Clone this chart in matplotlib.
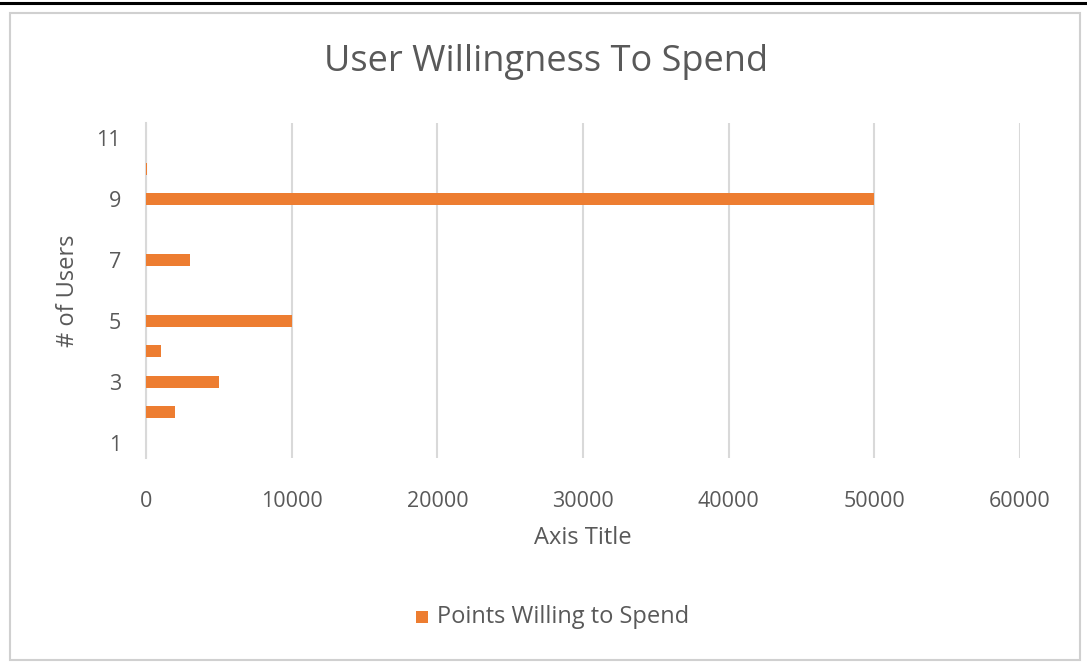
import matplotlib
matplotlib.use("Agg")
import matplotlib.pyplot as plt
from matplotlib.patches import Rectangle
from matplotlib.lines import Line2D

# Data
users = [1, 2, 3, 4, 5, 6, 7, 8, 9, 10, 11]
points = [0, 2000, 5000, 1000, 10000, 0, 3000, 0, 50000, 100, 0]
x_ticks = [0, 10000, 20000, 30000, 40000, 50000, 60000]
y_ticks = [1, 3, 5, 7, 9, 11]

ORANGE = "#ED7D31"
TEXT = "#595959"
GRID = "#D9D9D9"
FONT = "Open Sans"

plt.rcParams["font.family"] = [FONT, "DejaVu Sans"]

W, H = 1087, 667
fig = plt.figure(figsize=(W / 100, H / 100), dpi=100)
fig.patch.set_facecolor("white")

# Chart frame
fig.add_artist(Rectangle((10 / W, 1 - 660 / H), 1070 / W, 647 / H,
                         transform=fig.transFigure, fill=False,
                         edgecolor="#D0D0D0", linewidth=1.5))
# Heading rule above the chart
fig.add_artist(Line2D([0, 1], [1 - 3 / H, 1 - 3 / H], transform=fig.transFigure,
                      color="black", linewidth=2.2))

ax = fig.add_axes([146 / W, 1 - 458 / H, 874 / W, 335 / H])
ax.barh(users, points, height=0.4, color=ORANGE, zorder=3)

ax.set_xlim(0, 60000)
ax.set_ylim(0.5, 11.5)
ax.set_xticks(x_ticks)
ax.set_xticklabels([str(v) for v in x_ticks])
ax.set_yticks(y_ticks)
ax.set_yticklabels([str(v) for v in y_ticks])

ax.grid(axis="x", color=GRID, linewidth=1.5, zorder=0)
ax.grid(axis="y", visible=False)
for s in ["top", "right", "bottom"]:
    ax.spines[s].set_visible(False)
ax.spines["left"].set_color(GRID)
ax.spines["left"].set_linewidth(1.5)
ax.tick_params(axis="both", length=0, labelsize=15.5, colors=TEXT)
ax.tick_params(axis="x", pad=24)
ax.tick_params(axis="y", pad=18)

ax.set_xlabel("Axis Title", fontsize=17, color=TEXT, labelpad=10)
ax.set_ylabel("# of Users", fontsize=17, color=TEXT, labelpad=12)

fig.text(546 / W, 1 - 62 / H, "User Willingness To Spend",
         ha="center", va="center", fontsize=26, color=TEXT)

# Legend
fig.add_artist(Rectangle((416 / W, 1 - 623 / H), 12 / W, 12 / H,
                         transform=fig.transFigure, facecolor=ORANGE,
                         edgecolor="none"))
fig.text(437 / W, 1 - 617 / H, "Points Willing to Spend", ha="left",
         va="center", fontsize=17, color=TEXT)

fig.savefig("out.png", dpi=100, facecolor="white")
